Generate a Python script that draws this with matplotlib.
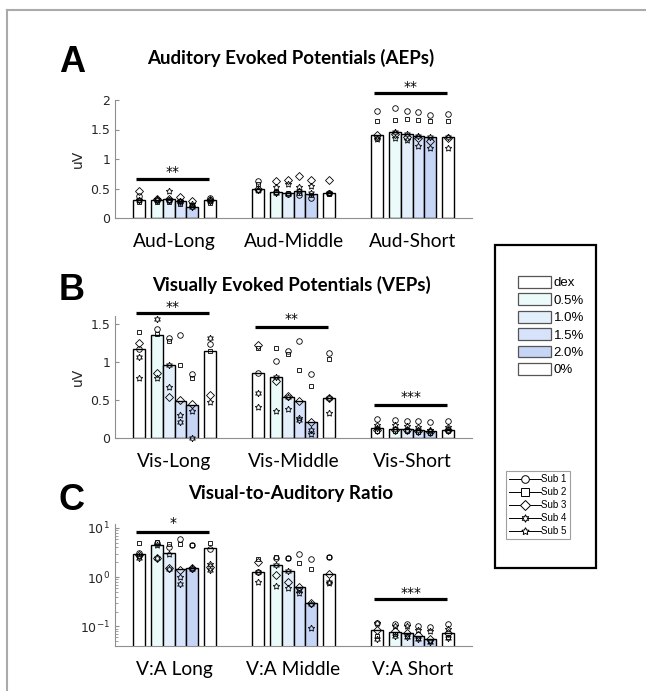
import matplotlib.pyplot as plt
from matplotlib.patches import Patch, Rectangle
from matplotlib.lines import Line2D
import numpy as np

W, H = 646, 691

conditions = ['dex', '0.5%', '1.0%', '1.5%', '2.0%', '0%']
bar_colors = ['#ffffff', '#ebfbf9', '#e4effc', '#d6e3fb', '#c6d5f6', '#ffffff']
subjects = ['Sub 1', 'Sub 2', 'Sub 3', 'Sub 4', 'Sub 5']

# panel A - auditory evoked potentials (uV)
aep_groups = ['Aud-Long', 'Aud-Middle', 'Aud-Short']
aep_bars = [[0.30, 0.31, 0.32, 0.28, 0.19, 0.31],
            [0.50, 0.44, 0.43, 0.45, 0.41, 0.43],
            [1.40, 1.46, 1.42, 1.39, 1.37, 1.37]]
# per group, per condition: Sub 1..5
aep_subs = [[[0.37, 0.27, 0.45, 0.30, 0.31],
             [0.31, 0.27, 0.33, 0.30, 0.32],
             [0.30, 0.27, 0.33, 0.31, 0.45],
             [0.27, 0.24, 0.35, 0.28, 0.29],
             [0.20, 0.22, 0.28, 0.19, 0.23],
             [0.34, 0.26, 0.31, 0.29, 0.31]],
            [[0.63, 0.58, 0.50, 0.47, 0.48],
             [0.44, 0.44, 0.63, 0.43, 0.52],
             [0.40, 0.43, 0.64, 0.41, 0.58],
             [0.39, 0.43, 0.72, 0.45, 0.52],
             [0.34, 0.39, 0.64, 0.42, 0.54],
             [0.43, 0.40, 0.64, 0.42, 0.43]],
            [[1.81, 1.65, 1.40, 1.36, 1.34],
             [1.86, 1.66, 1.42, 1.46, 1.36],
             [1.82, 1.67, 1.37, 1.42, 1.33],
             [1.79, 1.66, 1.35, 1.39, 1.22],
             [1.75, 1.65, 1.30, 1.37, 1.18],
             [1.77, 1.65, 1.36, 1.37, 1.18]]]
aep_sig = [(0, 0.66, 0.78, '**'), (2, 2.12, 2.22, '**')]

# panel B - visually evoked potentials (uV)
vep_groups = ['Vis-Long', 'Vis-Middle', 'Vis-Short']
vep_bars = [[1.17, 1.36, 0.96, 0.49, 0.44, 1.15],
            [0.85, 0.80, 0.54, 0.49, 0.21, 0.52],
            [0.13, 0.12, 0.12, 0.10, 0.09, 0.11]]
vep_subs = [[[1.17, 1.39, 1.25, 1.06, 0.79],
             [1.43, 1.37, 0.85, 1.56, 0.79],
             [1.31, 1.27, 0.54, 0.96, 0.67],
             [1.36, 0.96, 0.50, 0.21, 0.30],
             [0.84, 0.79, 0.45, 0.00, 0.36],
             [1.24, 1.15, 0.57, 1.31, 0.48]],
            [[0.85, 1.18, 1.23, 0.59, 0.41],
             [1.01, 1.18, 0.75, 0.80, 0.36],
             [1.15, 1.10, 0.55, 0.54, 0.38],
             [1.28, 0.90, 0.49, 0.24, 0.26],
             [0.84, 0.68, 0.21, 0.10, 0.05],
             [1.12, 1.04, 0.52, 0.52, 0.33]],
            [[0.25, 0.09, 0.11, 0.13, 0.17],
             [0.24, 0.09, 0.10, 0.12, 0.17],
             [0.23, 0.09, 0.10, 0.11, 0.16],
             [0.23, 0.08, 0.09, 0.10, 0.14],
             [0.21, 0.07, 0.08, 0.09, 0.11],
             [0.22, 0.09, 0.10, 0.11, 0.14]]]
vep_sig = [(0, 1.645, 1.72, '**'), (1, 1.46, 1.56, '**'), (2, 0.43, 0.54, '***')]

# panel C - visual-to-auditory ratio
ratio_groups = ['V:A Long', 'V:A Middle', 'V:A Short']
ratio_bars = [[3.0, 4.6, 3.1, 1.45, 1.55, 3.9],
              [1.25, 1.8, 1.35, 0.63, 0.30, 1.15],
              [0.086, 0.077, 0.072, 0.065, 0.055, 0.072]]
ratio_subs = [[[3.1, 4.9, 2.8, 2.4, 2.7],
               [4.9, 5.2, 2.4, 2.5, 4.6],
               [4.0, 4.7, 1.5, 1.45, 3.0],
               [5.9, 4.7, 1.4, 0.72, 1.0],
               [4.5, 4.5, 1.5, 1.45, 1.55],
               [3.8, 4.9, 1.6, 1.4, 1.85]],
              [[1.25, 2.3, 2.0, 1.3, 0.80],
               [2.4, 2.6, 1.1, 1.8, 0.66],
               [2.4, 2.5, 0.80, 1.35, 0.60],
               [3.0, 1.9, 0.63, 0.55, 0.48],
               [2.3, 1.45, 0.30, 0.29, 0.094],
               [2.6, 2.6, 1.15, 0.78, 0.75]],
              [[0.12, 0.063, 0.085, 0.055, 0.12],
               [0.11, 0.07, 0.08, 0.065, 0.10],
               [0.11, 0.063, 0.075, 0.06, 0.10],
               [0.10, 0.058, 0.068, 0.055, 0.085],
               [0.095, 0.05, 0.055, 0.048, 0.08],
               [0.11, 0.06, 0.072, 0.058, 0.09]]]
ratio_sig = [(0, 8.3, 12.3, '*'), (2, 0.356, 0.47, '***')]

offsets = np.array([0, 1.5, 2.5, 3.5, 4.5, 6])
group_starts = [0, 10, 20]
markers = ['o', 's', 'D', (6, 1, 0), (5, 1, 0)]
msizes = [4.0, 3.4, 3.8, 4.8, 4.8]
axis_gray = '#8f8f8f'
label_col = '#262626'
title_font = ['Lato', 'DejaVu Sans']


def fx(x):
    return x / W


def fy(y):
    return 1 - y / H


fig = plt.figure(figsize=(6.46, 6.91), dpi=100)


def make_ax(left, top, right, bottom):
    return fig.add_axes([fx(left), fy(bottom), (right - left) / W, (bottom - top) / H])


def draw_panel(ax, groups, bars, subs, sigs, log=False):
    base = 1e-3 if log else 0
    for g, start in enumerate(group_starts):
        xs = start + offsets
        heights = np.array(bars[g]) - base
        ax.bar(xs, heights, bottom=base, width=1.0, color=bar_colors,
               edgecolor='black', linewidth=1.0, zorder=2)
        for s in range(5):
            vals = [subs[g][c][s] for c in range(6)]
            ax.plot(xs, vals, linestyle='none', marker=markers[s], ms=msizes[s],
                    mfc='none', mec='black', mew=0.6, zorder=3, clip_on=False)
    for g, yl, yt, txt in sigs:
        start = group_starts[g]
        ax.plot([start - 0.2, start + 5.9], [yl, yl], color='black', lw=2.3,
                solid_capstyle='butt', clip_on=False)
        ax.text(start + 2.85, yt, txt, ha='center', va='center', fontsize=10,
                clip_on=False)
    ax.set_xlim(-2, 28)
    ax.set_xticks([s + 3 for s in group_starts])
    ax.set_xticklabels(groups, fontsize=13.8, family=title_font, color='black')
    ax.tick_params(axis='x', length=0, pad=11)
    ax.tick_params(axis='y', which='both', direction='in', color=axis_gray,
                   labelcolor=label_col, labelsize=9)
    ax.tick_params(axis='y', which='major', length=3)
    ax.tick_params(axis='y', which='minor', length=1.8)
    for side in ['top', 'right']:
        ax.spines[side].set_visible(False)
    for side in ['left', 'bottom']:
        ax.spines[side].set_color(axis_gray)
        ax.spines[side].set_linewidth(0.8)
    ax.set_facecolor('none')


# panel A
axA = make_ax(115, 100, 472, 218)
draw_panel(axA, aep_groups, aep_bars, aep_subs, aep_sig)
axA.set_ylim(0, 2)
axA.set_yticks([0, 0.5, 1, 1.5, 2])
axA.set_yticklabels(['0', '0.5', '1', '1.5', '2'])
axA.set_ylabel('uV', fontsize=10, color=label_col, labelpad=4)

# panel B
axB = make_ax(115, 316.4, 472, 438)
draw_panel(axB, vep_groups, vep_bars, vep_subs, vep_sig)
axB.set_ylim(0, 1.6)
axB.set_yticks([0, 0.5, 1, 1.5])
axB.set_yticklabels(['0', '0.5', '1', '1.5'])
axB.set_ylabel('uV', fontsize=10, color=label_col, labelpad=4)

# panel C
axC = make_ax(115, 524, 472, 646)
axC.set_yscale('log')
draw_panel(axC, ratio_groups, ratio_bars, ratio_subs, ratio_sig, log=True)
axC.set_ylim(0.04, 12)
axC.set_yticks([0.1, 1, 10])
axC.set_yticklabels([r'$10^{-1}$', r'$10^{0}$', r'$10^{1}$'])

# panel letters and titles
for letter, (lx, ly) in zip('ABC', [(72, 63), (72, 291), (72, 500)]):
    fig.text(fx(lx), fy(ly), letter, fontsize=26, fontweight='bold',
             family='Liberation Sans', ha='center', va='center')
titles = ['Auditory Evoked Potentials (AEPs)', 'Visually Evoked Potentials (VEPs)',
          'Visual-to-Auditory Ratio']
for t, ty in zip(titles, [58, 285, 494]):
    fig.text(fx(291), fy(ty), t, fontsize=13.5, fontweight='bold',
             family=title_font, ha='center', va='center')

# outer legend box
fig.patches.append(Rectangle((fx(495), fy(568)), (596 - 495) / W, (568 - 245) / H,
                             transform=fig.transFigure, fill=False,
                             edgecolor='black', linewidth=1.6))

cond_handles = [Patch(facecolor=c, edgecolor='#555555', linewidth=0.9) for c in bar_colors]
leg1 = fig.legend(cond_handles, conditions, loc='upper left',
                  bbox_to_anchor=(fx(518), fy(276)), frameon=False,
                  handlelength=2.5, handleheight=1.0, labelspacing=0.3,
                  handletextpad=0.2, borderpad=0, borderaxespad=0,
                  prop={'family': 'Liberation Sans', 'size': 9.5})

sub_handles = [Line2D([0], [0], color='black', lw=0.7, marker=m, ms=5.5,
                      mfc='white', mec='black', mew=0.7) for m in markers]
leg2 = fig.legend(sub_handles, subjects, loc='upper left',
                  bbox_to_anchor=(fx(506), fy(471)), frameon=True, fancybox=False,
                  edgecolor='#888888', handlelength=3.2, labelspacing=0.3,
                  handletextpad=0.1, borderpad=0.35, borderaxespad=0,
                  prop={'family': 'Liberation Sans', 'size': 7})
leg2.get_frame().set_linewidth(0.8)

# figure frame (top and left edge)
fig.add_artist(Line2D([fx(7), 1], [fy(10), fy(10)], transform=fig.transFigure,
                      color='#aaaaaa', lw=1.5))
fig.add_artist(Line2D([fx(7), fx(7)], [fy(10), 0], transform=fig.transFigure,
                      color='#aaaaaa', lw=1.5))

fig.savefig('out.png', dpi=100)
